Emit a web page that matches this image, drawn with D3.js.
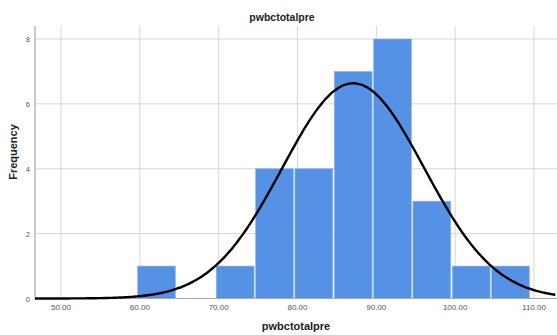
<!DOCTYPE html>
<html>
<head>
<meta charset="utf-8">
<script src="https://cdn.jsdelivr.net/npm/d3@7"></script>
<style>
  body { margin: 0; background: #fff; }
  svg { display: block; font-family: "Liberation Sans", Arial, sans-serif; }
</style>
</head>
<body>
<svg id="chart" width="557" height="335"></svg>
<script>
// histogram bins (lower edges) and counts
const binStarts = [59.65, 64.64, 69.63, 74.62, 79.61, 84.6, 89.59, 94.58, 99.57, 104.56];
const binWidth = 4.99;
const counts = [1, 0, 1, 4, 4, 7, 8, 3, 1, 1];
const xTicks = [50, 60, 70, 80, 90, 100, 110];
const yTicks = [0, 2, 4, 6, 8];
// normal curve parameters
const mean = 87.07, sd = 9.0, n = 30;

const svg = d3.select('#chart');
const L = 35, R = 557, T = 26, B = 298.5;

const x = d3.scaleLinear().domain([46.7, 112.92]).range([L, R]);
const y = d3.scaleLinear().domain([0, 8]).range([B, 39]);

// grid
svg.append('g').selectAll('line').data(xTicks).join('line')
  .attr('x1', d => x(d)).attr('x2', d => x(d)).attr('y1', T).attr('y2', B)
  .attr('stroke', '#d6d6d6').attr('stroke-width', 1);
svg.append('g').selectAll('line').data(yTicks.filter(d => d > 0)).join('line')
  .attr('x1', L).attr('x2', R).attr('y1', d => y(d)).attr('y2', d => y(d))
  .attr('stroke', '#d6d6d6').attr('stroke-width', 1);

// bars
const bins = binStarts.map((s, i) => ({ s, c: counts[i] })).filter(d => d.c > 0);
svg.append('g').selectAll('rect').data(bins).join('rect')
  .attr('x', d => x(d.s) + 0.5)
  .attr('width', d => x(d.s + binWidth) - x(d.s) - 1.5)
  .attr('y', d => y(d.c))
  .attr('height', d => y(0) - y(d.c))
  .attr('fill', '#5592e5')
  .attr('stroke', '#8fb8ef').attr('stroke-width', 0.6);

// axes lines
svg.append('line').attr('x1', L).attr('x2', L).attr('y1', T).attr('y2', B)
  .attr('stroke', '#a8a8a8').attr('stroke-width', 1.2);
svg.append('line').attr('x1', L).attr('x2', R).attr('y1', B).attr('y2', B)
  .attr('stroke', '#a8a8a8').attr('stroke-width', 1.2);

// normal curve
const dens = v => n * binWidth / (sd * Math.sqrt(2 * Math.PI)) * Math.exp(-0.5 * ((v - mean) / sd) ** 2);
const pts = d3.range(46.7, 112.95, 0.25);
svg.append('path').datum(pts)
  .attr('fill', 'none').attr('stroke', '#000').attr('stroke-width', 2.4)
  .attr('d', d3.line().x(d => x(d)).y(d => y(dens(d))).curve(d3.curveBasis));

// tick labels
svg.append('g').selectAll('text').data(xTicks).join('text')
  .attr('x', d => x(d)).attr('y', 310)
  .attr('text-anchor', 'middle').attr('font-size', 8).attr('fill', '#555')
  .text(d => d.toFixed(2));
svg.append('g').selectAll('text').data(yTicks).join('text')
  .attr('x', 30).attr('y', d => y(d) + 3)
  .attr('text-anchor', 'end').attr('font-size', 7.5).attr('fill', '#555')
  .text(d => d);

// titles
svg.append('text').attr('x', 282).attr('y', 21).attr('text-anchor', 'middle')
  .attr('font-size', 10.5).attr('font-weight', 'bold').attr('fill', '#222').text('pwbctotalpre');
svg.append('text').attr('x', 296).attr('y', 330).attr('text-anchor', 'middle')
  .attr('font-size', 11).attr('font-weight', 'bold').attr('fill', '#222').text('pwbctotalpre');
svg.append('text').attr('transform', 'translate(17,152) rotate(-90)').attr('text-anchor', 'middle')
  .attr('font-size', 11).attr('font-weight', 'bold').attr('fill', '#222').text('Frequency');
</script>
</body>
</html>
